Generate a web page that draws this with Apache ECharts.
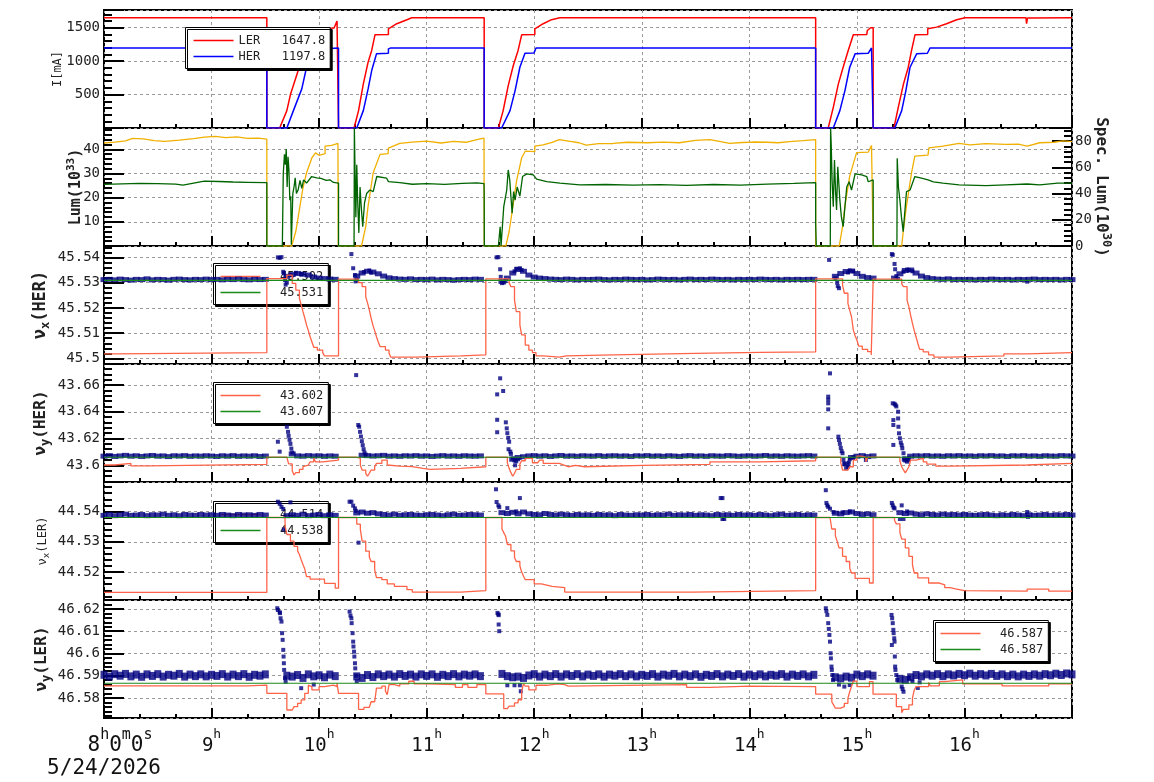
<!DOCTYPE html>
<html>
<head>
<meta charset="utf-8">
<script src="https://cdn.jsdelivr.net/npm/echarts@6/dist/echarts.min.js"></script>
<style>
html, body { margin: 0; padding: 0; background: #fff; }
#main { width: 1154px; height: 782px; }
</style>
</head>
<body>
<div id="main"></div>
<script>
// ---- data (times are local, 24 May 2026) ----
const BAND_STEP_MIN = 3; // tune monitor samples, one every 3 minutes from 8:00

// beam currents [mA]
const lerCurrent = [
  ['08:00',1648],['09:30:50',1648],['09:30:50',0],['09:38',0],['09:42',260],['09:44',500],['09:45:40',640],['09:48:20',860],
  ['09:50:20',960],['09:53',1390],['10:03:20',1395],['10:03:20',1490],['10:08:20',1495],['10:10',1600],['10:10:50',1600],['10:10:50',0],
  ['10:19:30',0],['10:22',260],['10:24:40',660],['10:27:20',985],['10:29:20',1160],['10:31:10',1394],['10:38:40',1398],['10:38:40',1484],
  ['10:43:20',1560],['10:49',1620],['10:51:40',1648],['11:32:05',1648],['11:32:05',0],['11:40',0],['11:42:40',260],['11:45:30',634],
  ['11:48:20',934],['11:51',1160],['11:53',1394],['12:00:20',1398],['12:00:20',1484],['12:05',1560],['12:09:40',1620],['12:14:20',1648],
  ['14:37',1648],['14:37',0],['14:44',0],['14:46:50',309],['14:49:40',660],['14:52:20',909],['14:55:10',1160],['14:58',1394],
  ['15:05:30',1398],['15:05:50',1459],['15:07:40',1500],['15:09:05',1500],['15:09:05',0],['15:20:40',0],['15:23:05',309],['15:26',660],
  ['15:28:40',909],['15:30:30',1160],['15:32:25',1394],['15:39:30',1398],['15:39:30',1484],['15:44:30',1509],['15:50',1560],['15:55:40',1619],
  ['16:00:20',1648],['16:34:20',1648],['16:34:40',1560],['16:35:10',1645],['17:00',1648]
];
const herCurrent = [
  ['08:00',1198],['09:30:50',1198],['09:30:50',0],['09:42',0],['09:45:40',260],['09:50:20',585],['09:53',909],['09:55:20',1118],
  ['10:01:20',1120],['10:03:20',1184],['10:04',1198],['10:10:50',1198],['10:10:50',0],['10:21',0],['10:24:40',260],['10:27:20',585],
  ['10:29:20',859],['10:32',1109],['10:38:40',1118],['10:38:40',1184],['10:40',1198],['11:32:05',1198],['11:32:05',0],['11:41:50',0],
  ['11:46:30',260],['11:49:20',560],['11:52',909],['11:54:50',1118],['11:59:50',1120],['12:01',1198],['14:37',1198],['14:37',0],
  ['14:46:50',0],['14:50:30',260],['14:53:20',560],['14:56',909],['14:59',1109],['15:06:20',1118],['15:08:10',1198],['15:09:05',1198],
  ['15:09:05',0],['15:21:10',0],['15:25',260],['15:27:20',560],['15:29:40',909],['15:33:20',1109],['15:39:20',1118],['15:40:50',1198],
  ['16:34:20',1198],['16:34:40',1186],['16:35:10',1197],['17:00',1198]
];

// luminosity [1e33] (left) and specific luminosity [1e30] (right)
const lumData = [
  ['08:00',42.6],['08:06',43.0],['08:12',43.5],['08:16',44.5],['08:22',44.3],['08:28',43.6],['08:34',43.3],['08:42',43.8],['08:50',44.4],
  ['08:56',45.0],['09:02',45.3],['09:08',44.8],['09:14',45.1],['09:20',44.5],['09:26',44.6],['09:30:50',44.2],['09:30:50',0],['09:44:40',0],
  ['09:47',6],['09:49:20',16.6],['09:51',24],['09:53',30.3],['09:56',36.5],['09:58',38.5],['10:00',37.5],['10:03:20',38.2],['10:03:20',41.3],
  ['10:07',41.6],['10:10:30',42.4],['10:10:40',0],['10:23:40',0],['10:26',8],['10:27:20',16.6],['10:30:10',30.3],['10:34',37.9],['10:38:30',38.2],
  ['10:38:40',40.5],['10:45',42.4],['10:52',43.0],['11:00',43.4],['11:08',42.6],['11:15',43.3],['11:22',42.9],['11:28',44.0],['11:32',44.6],
  ['11:32:05',0],['11:44:10',0],['11:46',6],['11:47:20',12.5],['11:50:10',26.9],['11:53',36.5],['11:55',39.2],['12:00:20',39.0],['12:00:20',41.3],
  ['12:05',41.8],['12:10',42.9],['12:14',44.0],['12:20',43.3],['12:25',42.7],['12:29',41.7],['12:36',42.3],['12:44',42.4],['12:52',42.9],
  ['13:03',42.7],['13:12',43.0],['13:21',42.7],['13:30',43.7],['13:38',44.0],['13:44',43.2],['13:49',42.4],['13:56',42.8],['14:02',43.0],
  ['14:10',42.9],['14:16',42.7],['14:24',43.3],['14:30',43.6],['14:37',44.0],['14:37',0],['14:50:10',0],['14:52',8],['14:53:20',16.6],
  ['14:56',28.9],['14:59:50',38.6],['15:06:20',38.8],['15:08:10',41.6],['15:09:05',41.6],['15:09:05',0],['15:25',0],['15:26',7],['15:27:40',16.6],
  ['15:30:30',30.3],['15:32:20',37.2],['15:39:40',37.6],['15:40:10',40.6],['15:48',41.3],['15:57',42.4],['16:03',41.8],['16:12',42.3],
  ['16:23',42.0],['16:30',42.1],['16:35',41.3],['16:42',42.7],['16:50',42.9],['16:55',43.5],['17:00',43.2]
];
const specLum = [
  ['08:00',47.0],['08:10',47.4],['08:20',47.8],['08:30',47.5],['08:40',47.2],['08:44',46.4],['08:50',48.0],['08:56',49.5],['09:04',49.2],
  ['09:12',48.8],['09:20',48.6],['09:30:50',48.3],['09:30:50',0],['09:39:30',0],['09:40',55],['09:40:40',70],['09:41:10',62],['09:41:40',74],
  ['09:42:10',45],['09:42:40',68],['09:43:10',58],['09:43:40',35],['09:44:10',38],['09:44:30',1],['09:45',1],['09:45:20',40],['09:46',45],
  ['09:46:40',52],['09:47:20',40],['09:48:20',43],['09:49:20',50],['09:50:20',44],['09:51:20',50.4],['09:53',48],['09:55:50',53],['09:58:40',52],
  ['10:01',51.5],['10:04',50],['10:06',50.5],['10:08',48.5],['10:10:50',48],['10:10:50',0],['10:19:30',0],['10:19:40',90],['10:20',60.5],
  ['10:20:30',22],['10:21',62],['10:21:30',35],['10:22:10',10],['10:22:50',45],['10:23:30',30],['10:24:20',14.7],['10:25:20',33],['10:26:30',40],
  ['10:28:20',42.7],['10:30:10',41.5],['10:32:10',53],['10:37:40',51.7],['10:38:40',49.1],['10:45',48.3],['10:52',47.1],['11:00',47.6],
  ['11:10',47.0],['11:20',47.8],['11:28',48.2],['11:32',47.5],['11:32:05',40],['11:32:10',0],['11:40',0],['11:41',14.7],['11:41:30',0],
  ['11:42:30',0],['11:43',30],['11:44:40',42.7],['11:45:30',58],['11:46:20',50.4],['11:47:40',25],['11:48:30',41.5],['11:49:20',35],
  ['11:50:30',45],['11:52',38],['11:53:30',53],['11:55:50',55],['11:59:30',54.2],['12:01:20',51],['12:07',49.1],['12:14:20',47.9],
  ['12:25:30',46.6],['12:40',46.9],['12:55',46.4],['13:10',46.8],['13:25',46.3],['13:40',46.9],['13:55',46.5],['14:10',47.2],['14:25',47.8],
  ['14:37',48.3],['14:37',17],['14:37:20',0],['14:45:10',0],['14:45:20',90],['14:45:40',78],['14:46:10',50],['14:46:50',30],['14:47:30',65.6],
  ['14:48:10',40],['14:48:40',27.5],['14:49:20',60.5],['14:50:30',35],['14:51:20',22.4],['14:52:20',14.7],['14:53:20',30],['14:54:20',45],
  ['14:55:40',49],['14:57',42.7],['14:59',55],['15:02:40',54.2],['15:05:30',53],['15:06:20',49],['15:09:05',50.4],['15:09:05',0],['15:22:20',0],
  ['15:22:30',67],['15:23:10',45],['15:24',35],['15:24:50',22.4],['15:25:50',11],['15:26:40',25],['15:27:40',41.5],['15:29:40',42.7],
  ['15:32:20',53],['15:36',51.7],['15:39:40',50.4],['15:42:40',48.9],['15:48',47.9],['15:57',46.6],['16:12',46.0],['16:23',46.6],['16:35',47.3],
  ['16:42',46.6],['16:52',47.9],['17:00',47.9]
];

// tune set values (stepped) and reference lines
const nxHerSet = [
  ['08:00',45.5018],['08:06',45.5023],['09:30:50',45.5316],['09:42',45.5330],['09:45',45.5297],['09:47',45.5270],['09:49',45.5238],['09:50',45.5212],
  ['09:51',45.5185],['09:52',45.5160],['09:53',45.5132],['09:54',45.5110],['09:55',45.5086],['09:56',45.5065],['09:57',45.5044],['09:59',45.5033],
  ['10:02',45.5023],['10:03',45.5010],['10:10:50',45.5314],['10:22',45.5300],['10:24',45.5284],['10:26',45.5244],['10:27',45.5220],['10:28',45.5192],
  ['10:29',45.5160],['10:30',45.5132],['10:31',45.5110],['10:32',45.5086],['10:33',45.5065],['10:34',45.5047],['10:37',45.5033],['10:39',45.5021],
  ['10:40',45.5005],['10:54',45.5010],['11:19',45.5014],['11:33',45.5315],['11:46',45.5300],['11:47',45.5284],['11:49',45.5231],['11:50',45.5185],
  ['11:52',45.5132],['11:53',45.5093],['11:55',45.5053],['11:57',45.5033],['11:59',45.5023],['12:01',45.5010],['12:05',45.5005],['12:14',45.5010],
  ['12:18',45.5014],['12:44',45.5020],['13:30',45.5024],['14:06',45.5026],['14:37',45.5315],['14:52',45.5290],['14:53',45.5258],['14:55',45.5218],
  ['14:56',45.5190],['14:57',45.5165],['14:58',45.5113],['14:59',45.5090],['15:00',45.5073],['15:01',45.5049],['15:03',45.5036],['15:06',45.5027],
  ['15:08',45.5014],['15:09:05',45.5314],['15:25',45.5295],['15:26',45.5284],['15:28',45.5230],['15:29',45.5205],['15:30',45.5170],['15:31',45.5139],
  ['15:32',45.5110],['15:33',45.5086],['15:34',45.5060],['15:35',45.5036],['15:37',45.5026],['15:40',45.5014],['15:43',45.5005],['15:52',45.5010],
  ['16:22',45.5018],['16:35',45.5023],['17:00',45.5022]
];
const nyHerSet = [
  ['08:00',43.6002],['08:06',43.6014],['08:15',43.5996],['08:25',43.6007],['09:30:50',43.6060],['09:42',43.6052],['09:43',43.6010],['09:45',43.5960],
  ['09:46',43.5928],['09:47',43.5945],['09:49',43.5969],['09:51',43.5990],['09:52',43.6002],['09:54',43.6015],['09:55',43.6026],['09:57',43.6052],
  ['09:58',43.6026],['10:02',43.6039],['10:10:50',43.6060],['10:21',43.6052],['10:23',43.6000],['10:24',43.5964],['10:26',43.5940],['10:27',43.5918],
  ['10:28',43.5940],['10:29',43.5964],['10:31',43.5990],['10:32',43.6014],['10:35',43.6039],['10:38',43.6002],['10:39',43.5994],['10:45',43.5990],
  ['10:52',43.5977],['10:58',43.5970],['11:02',43.5977],['11:19',43.5989],['11:33',43.6060],['11:45',43.6020],['11:46',43.5977],['11:47',43.5945],
  ['11:48',43.5918],['11:49',43.5940],['11:50',43.5969],['11:52',43.6010],['11:53',43.6034],['11:55',43.6052],['11:59',43.6019],['12:02',43.6026],
  ['12:03',43.6039],['12:05',43.6014],['12:14',43.6000],['12:17',43.5989],['12:19',43.6000],['12:23',43.5989],['12:28',43.6000],['13:01',43.6007],
  ['13:38',43.6026],['14:06',43.6034],['14:37',43.6060],['14:51',43.6020],['14:52',43.5964],['14:55',43.5956],['14:56',43.5989],['14:58',43.6039],
  ['15:00',43.6069],['15:02',43.6060],['15:05',43.6026],['15:06',43.6060],['15:24',43.6030],['15:25',43.5989],['15:26',43.5965],['15:27',43.5943],
  ['15:28',43.5965],['15:29',43.5989],['15:30',43.6039],['15:33',43.6052],['15:37',43.6026],['15:39',43.6009],['15:44',43.5994],['15:52',43.6002],
  ['16:35',43.6014],['17:00',43.6014]
];
const nxLerSet = [
  ['08:00',44.5133],['09:30:50',44.5380],['09:41',44.5352],['09:42',44.5324],['09:44',44.5302],['09:46',44.5285],['09:48',44.5270],['09:49',44.5258],
  ['09:50',44.5241],['09:51',44.5225],['09:52',44.5210],['09:53',44.5185],['09:55',44.5177],['10:03',44.5163],['10:09',44.5147],['10:10:50',44.5380],
  ['10:21',44.5358],['10:23',44.5341],['10:24',44.5302],['10:26',44.5269],['10:28',44.5250],['10:29',44.5235],['10:31',44.5208],['10:32',44.5182],
  ['10:35',44.5175],['10:38',44.5161],['10:42',44.5153],['10:49',44.5142],['10:52',44.5134],['11:19',44.5139],['11:33',44.5380],['11:42',44.5342],
  ['11:43',44.5330],['11:44',44.5319],['11:45',44.5291],['11:47',44.5270],['11:49',44.5248],['11:50',44.5235],['11:52',44.5220],['11:53',44.5200],
  ['11:54',44.5187],['11:55',44.5175],['12:00',44.5161],['12:04',44.5157],['12:07',44.5153],['12:10',44.5149],['12:17',44.5134],['13:28',44.5139],
  ['14:37',44.5380],['14:45',44.5375],['14:46',44.5342],['14:48',44.5319],['14:49',44.5302],['14:50',44.5280],['14:52',44.5252],['14:54',44.5235],
  ['14:56',44.5213],['14:57',44.5197],['14:59',44.5179],['15:07',44.5164],['15:09:05',44.5380],['15:21',44.5370],['15:22',44.5359],['15:24',44.5330],
  ['15:25',44.5309],['15:27',44.5280],['15:29',44.5252],['15:31',44.5224],['15:32',44.5197],['15:34',44.5181],['15:40',44.5164],['15:46',44.5158],
  ['15:49',44.5149],['15:52',44.5145],['15:55',44.5139],['16:00',44.5137],['16:35',44.5144],['16:47',44.5137],['17:00',44.5137]
];
const nyLerSet = [
  ['08:00',46.5854],['09:20',46.5858],['09:30:50',46.5821],['09:42',46.5746],['09:45',46.5750],['09:46',46.5761],['09:48',46.5776],['09:50',46.5791],
  ['09:52',46.5821],['09:54',46.5858],['09:55',46.5850],['09:56',46.5836],['10:00',46.5851],['10:03',46.5858],['10:08',46.5851],['10:10',46.5866],
  ['10:10:50',46.5821],['10:22',46.5749],['10:25',46.5758],['10:28',46.5764],['10:29',46.5783],['10:31',46.5791],['10:32',46.5844],['10:35',46.5853],
  ['10:37',46.5830],['10:38',46.5815],['10:39',46.5860],['10:42',46.5853],['10:45',46.5863],['10:50',46.5875],['10:53',46.5863],['11:00',46.5860],
  ['11:16',46.5848],['11:20',46.5860],['11:23',46.5848],['11:28',46.5860],['11:33',46.5818],['11:43',46.5752],['11:45',46.5747],['11:46',46.5763],
  ['11:49',46.5778],['11:51',46.5792],['11:53',46.5830],['11:54',46.5863],['11:55',46.5853],['11:57',46.5836],['12:01',46.5857],['12:07',46.5863],
  ['12:13',46.5860],['12:17',46.5867],['12:18',46.5853],['12:19',46.5860],['13:25',46.5848],['13:38',46.5853],['14:00',46.5851],['14:37',46.5817],
  ['14:46',46.5783],['14:47',46.5769],['14:48',46.5754],['14:51',46.5761],['14:53',46.5776],['14:55',46.5799],['14:56',46.5828],['14:57',46.5851],
  ['14:58',46.5876],['15:00',46.5851],['15:07',46.5873],['15:09',46.5817],['15:22',46.5761],['15:25',46.5734],['15:26',46.5749],['15:29',46.5769],
  ['15:31',46.5799],['15:32',46.5836],['15:33',46.5851],['15:40',46.5869],['15:41',46.5854],['15:46',46.5873],['15:49',46.5881],['15:59',46.5863],
  ['16:21',46.5854],['16:47',46.5863],['17:00',46.5863]
];
const nxHerRefValue = 45.5309;
const nyHerRefValue = 43.6060;
const nxLerRefValue = 44.5380;
const nyLerRefValue = 46.5866;

// measured tunes: steady band, one value per 3 minutes from 8:00 to 17:00 (null = no beam)
const nxHerBand = [
  45.5312,45.5313,45.5311,45.5314,45.5312,45.5310,45.5313,45.5312,45.5315,45.5311,45.5313,45.5312,45.5310,45.5313,45.5314,45.5312,45.5311,45.5313,45.5312,45.5314,
  45.5312,45.5313,45.5311,45.5313,45.5312,45.5314,45.5312,45.5311,45.5313,45.5312,45.5313,null,null,null,45.5325,45.5332,45.5336,45.5333,45.5330,45.5322,
  45.5318,45.5316,45.5314,45.5313,null,null,null,45.5326,45.5338,45.5345,45.5342,45.5335,45.5326,45.5319,45.5316,45.5314,45.5313,45.5315,45.5312,45.5313,
  45.5312,45.5314,45.5311,45.5313,45.5312,45.5310,45.5312,45.5313,45.5312,45.5314,45.5313,null,null,null,45.5305,45.5318,45.5338,45.5352,45.5345,45.5330,
  45.5322,45.5318,45.5316,45.5314,45.5313,45.5312,45.5314,45.5313,45.5311,45.5313,45.5312,45.5313,45.5314,45.5312,45.5311,45.5313,45.5312,45.5314,45.5313,45.5312,
  45.5313,45.5311,45.5312,45.5314,45.5313,45.5312,45.5313,45.5311,45.5313,45.5314,45.5312,45.5313,45.5312,45.5314,45.5313,45.5312,45.5313,45.5311,45.5313,45.5312,
  45.5313,45.5312,45.5314,45.5313,45.5312,45.5313,45.5311,45.5313,45.5312,45.5313,45.5312,45.5313,45.5313,null,null,null,45.5325,45.5336,45.5344,45.5346,
  45.5336,45.5325,45.5320,45.5318,null,null,null,45.5318,45.5335,45.5348,45.5350,45.5338,45.5326,45.5320,45.5316,45.5314,45.5313,45.5315,45.5312,45.5313,
  45.5312,45.5313,45.5311,45.5313,45.5312,45.5314,45.5313,45.5312,45.5313,45.5311,45.5313,45.5312,45.5313,45.5314,45.5312,45.5313,45.5312,45.5313,45.5311,45.5313,
  45.5312
];
const nyHerBand = [
  43.6068,43.6072,43.6066,43.6070,43.6074,43.6068,43.6071,43.6066,43.6070,43.6073,43.6068,43.6070,43.6065,43.6071,43.6069,43.6072,43.6067,43.6070,43.6068,43.6071,
  43.6069,43.6066,43.6071,43.6068,43.6072,43.6067,43.6070,43.6068,43.6071,43.6066,43.6069,null,null,null,null,43.6085,43.6070,43.6068,43.6072,43.6069,
  43.6071,43.6067,43.6070,43.6068,null,null,null,null,43.6075,43.6072,43.6069,43.6071,43.6074,43.6068,43.6070,43.6067,43.6071,43.6069,43.6072,43.6068,
  43.6070,43.6066,43.6069,43.6072,43.6068,43.6070,43.6067,43.6071,43.6069,43.6068,43.6070,null,null,null,null,null,43.6045,43.6058,43.6064,43.6070,
  43.6072,43.6068,43.6071,43.6066,43.6070,43.6073,43.6068,43.6070,43.6067,43.6071,43.6069,43.6068,43.6072,43.6067,43.6070,43.6071,43.6068,43.6070,43.6066,43.6071,
  43.6069,43.6072,43.6068,43.6070,43.6067,43.6071,43.6069,43.6066,43.6070,43.6072,43.6068,43.6070,43.6067,43.6071,43.6069,43.6068,43.6072,43.6070,43.6067,43.6069,
  43.6071,43.6068,43.6070,43.6073,43.6068,43.6070,43.6067,43.6071,43.6069,43.6068,43.6070,43.6072,43.6069,null,null,null,null,null,43.6010,43.6058,
  43.6068,43.6072,43.6065,43.6070,null,null,null,null,null,43.6045,43.6068,43.6071,43.6069,43.6072,43.6068,43.6070,43.6067,43.6071,43.6069,43.6072,
  43.6068,43.6070,43.6067,43.6071,43.6069,43.6072,43.6068,43.6070,43.6066,43.6071,43.6069,43.6072,43.6068,43.6070,43.6067,43.6071,43.6069,43.6068,43.6072,43.6070,
  43.6069
];
const nxLerBand = [
  44.5387,44.5390,44.5386,44.5389,44.5391,44.5387,44.5388,44.5390,44.5386,44.5389,44.5388,44.5391,44.5387,44.5389,44.5386,44.5390,44.5388,44.5387,44.5390,44.5388,
  44.5389,44.5387,44.5390,44.5388,44.5386,44.5390,44.5388,44.5389,44.5387,44.5390,44.5388,null,null,null,44.5386,44.5389,44.5387,44.5391,44.5386,44.5388,
  44.5390,44.5386,44.5389,44.5387,null,null,null,44.5395,44.5398,44.5394,44.5396,44.5392,44.5390,44.5388,44.5391,44.5387,44.5389,44.5390,44.5388,44.5387,
  44.5389,44.5390,44.5388,44.5386,44.5389,44.5391,44.5387,44.5388,44.5390,44.5389,44.5388,null,null,null,44.5396,44.5393,44.5397,44.5392,44.5398,44.5392,
  44.5390,44.5389,44.5393,44.5390,44.5388,44.5391,44.5389,44.5387,44.5390,44.5388,44.5389,44.5387,44.5390,44.5388,44.5389,44.5386,44.5390,44.5388,44.5387,44.5389,
  44.5388,44.5390,44.5387,44.5389,44.5388,44.5391,44.5387,44.5389,44.5388,44.5390,44.5387,44.5389,44.5388,44.5386,44.5390,44.5388,44.5389,44.5387,44.5390,44.5388,
  44.5389,44.5387,44.5390,44.5388,44.5386,44.5389,44.5391,44.5387,44.5388,44.5390,44.5387,44.5389,44.5388,null,null,null,44.5394,44.5392,44.5396,44.5398,
  44.5393,44.5390,44.5392,44.5389,null,null,null,null,44.5396,44.5393,44.5395,44.5391,44.5389,44.5392,44.5390,44.5388,44.5391,44.5389,44.5390,44.5388,
  44.5390,44.5388,44.5387,44.5389,44.5390,44.5388,44.5386,44.5389,44.5387,44.5390,44.5388,44.5386,44.5389,44.5387,44.5388,44.5390,44.5387,44.5389,44.5388,44.5390,
  44.5388
];
const nyLerBand = [
  46.5904,46.5896,46.5907,46.5900,46.5908,46.5897,46.5905,46.5895,46.5906,46.5899,46.5907,46.5896,46.5904,46.5900,46.5908,46.5896,46.5905,46.5898,46.5906,46.5897,
  46.5904,46.5899,46.5907,46.5896,46.5905,46.5898,46.5907,46.5895,46.5904,46.5900,46.5906,null,null,null,46.5900,46.5896,46.5903,46.5890,46.5906,46.5897,
  46.5902,46.5893,46.5905,46.5898,null,null,null,46.5897,46.5890,46.5903,46.5894,46.5906,46.5898,46.5905,46.5896,46.5907,46.5899,46.5905,46.5896,46.5906,
  46.5899,46.5906,46.5895,46.5904,46.5898,46.5907,46.5897,46.5905,46.5900,46.5906,46.5898,null,null,null,46.5908,46.5898,46.5893,46.5896,46.5890,46.5901,
  46.5907,46.5896,46.5905,46.5898,46.5907,46.5896,46.5906,46.5899,46.5907,46.5897,46.5905,46.5899,46.5906,46.5896,46.5905,46.5900,46.5907,46.5898,46.5906,46.5897,
  46.5904,46.5899,46.5907,46.5896,46.5905,46.5900,46.5908,46.5897,46.5905,46.5898,46.5906,46.5895,46.5904,46.5899,46.5907,46.5897,46.5905,46.5899,46.5907,46.5896,
  46.5905,46.5898,46.5906,46.5897,46.5904,46.5900,46.5907,46.5896,46.5905,46.5899,46.5906,46.5897,46.5904,null,null,null,46.5893,46.5888,46.5896,46.5891,
  46.5905,46.5898,46.5906,46.5900,null,null,null,null,46.5886,46.5881,46.5893,46.5903,46.5897,46.5906,46.5900,46.5907,46.5898,46.5906,46.5901,46.5908,
  46.5902,46.5909,46.5900,46.5907,46.5901,46.5908,46.5899,46.5906,46.5898,46.5905,46.5897,46.5905,46.5899,46.5906,46.5900,46.5907,46.5902,46.5909,46.5903,46.5910,
  46.5906
];

// measured tunes around refills (individual readings)
const nxHerTrans = [
  ['09:37',45.5400],['09:38',45.5398],['09:39',45.5401],['09:40',45.5343],['09:40:20',45.5338],['09:41',45.5310],['09:41:20',45.5292],['09:42',45.5300],
  ['09:44',45.5330],['09:47',45.5339],['09:50',45.5334],['10:18',45.5413],['10:19',45.5357],['10:20',45.5330],['10:20:20',45.5305],['10:21',45.5312],
  ['10:25',45.5342],['10:28',45.5348],['10:29',45.5340],['11:39',45.5400],['11:40',45.5401],['11:41',45.5353],['11:41:20',45.5323],['11:42',45.5298],
  ['11:43',45.5300],['11:44',45.5306],['11:49',45.5345],['11:50',45.5355],['11:52',45.5357],['11:53',45.5350],['14:44:30',45.5390],['14:48',45.5317],
  ['14:49',45.5300],['14:49:20',45.5286],['14:50',45.5278],['14:55',45.5340],['14:56',45.5348],['14:58',45.5345],['15:19:30',45.5413],['15:20',45.5410],
  ['15:21',45.5374],['15:21:20',45.5353],['15:22',45.5326],['15:23',45.5315],['15:26',45.5343],['15:28',45.5352],['15:29',45.5350],['15:31',45.5345],
  ['16:35',45.5304]
];
const nyHerTrans = [
  ['09:37',43.6176],['09:38',43.6102],['09:42',43.6288],['09:42:40',43.6250],['09:43',43.6220],['09:43:30',43.6190],['09:44',43.6160],['09:44:30',43.6125],
  ['09:45',43.6095],['10:20:40',43.6674],['10:21:50',43.6301],['10:22:20',43.6288],['10:22:50',43.6250],['10:23:20',43.6215],['10:23:50',43.6180],
  ['10:24:20',43.6150],['10:24:50',43.6120],['10:25:20',43.6095],['10:26',43.6080],['11:39:20',43.6530],['11:39:20',43.6340],['11:39:20',43.6247],
  ['11:41',43.6650],['11:42:40',43.6555],['11:44:10',43.6321],['11:44:40',43.6276],['11:45',43.6240],['11:45:30',43.6205],['11:46',43.6176],
  ['11:45:40',43.6120],['11:46:40',43.6102],['11:47',43.6085],['11:48',43.6052],['11:49',43.6035],['11:49:20',43.6000],['11:50',43.6030],['11:51',43.6045],
  ['14:44',43.6513],['14:44',43.6490],['14:44',43.6463],['14:44',43.6418],['14:44',43.6276],['14:45',43.6687],['14:49:40',43.6214],['14:50',43.6189],
  ['14:50:30',43.6160],['14:51',43.6130],['14:51:30',43.6105],['14:52',43.6090],['14:52:30',43.6040],['14:53',43.6010],['14:54',43.5978],['14:55',43.5990],
  ['14:55:30',43.6020],['14:56',43.6045],['14:58',43.6060],['15:05',43.6040],['15:20',43.6463],['15:20:20',43.6338],['15:20:20',43.6301],['15:20:20',43.6152],
  ['15:21',43.6460],['15:21:30',43.6450],['15:22',43.6440],['15:23',43.6400],['15:23',43.6350],['15:23:10',43.6288],['15:23:30',43.6239],['15:24',43.6202],
  ['15:24:30',43.6170],['15:25',43.6150],['15:25:20',43.6127],['15:26',43.6090],['15:26:30',43.6052],['15:27',43.6035],['15:28',43.6027],['15:28:30',43.6040],
  ['15:29',43.6055]
];
const nxLerTrans = [
  ['09:37',44.5432],['09:38',44.5425],['09:39',44.5415],['09:40',44.5408],['09:40:20',44.5341],['09:44',44.5430],['10:17',44.5432],['10:18',44.5432],
  ['10:19',44.5419],['10:20',44.5410],['10:20:30',44.5402],['10:22',44.5297],['11:38:40',44.5473],['11:39',44.5431],['11:40',44.5420],['11:40:30',44.5414],
  ['11:45',44.5411],['11:52',44.5444],['11:50',44.5400],['13:44',44.5444],['13:45',44.5444],['13:45',44.5375],['13:46',44.5375],['14:42:40',44.5470],
  ['14:43',44.5428],['14:43:30',44.5420],['14:44',44.5415],['14:45',44.5409],['14:56',44.5400],['14:47',44.5398],['14:52',44.5397],['15:19:30',44.5428],
  ['15:20',44.5420],['15:20:30',44.5413],['15:21',44.5410],['15:25',44.5420],['15:24',44.5375],['15:26',44.5375],['15:28',44.5400],['16:35',44.5398],
  ['16:35:30',44.5382]
];
const nyLerTrans = [
  ['09:36:40',46.6203],['09:37',46.6195],['09:38',46.6185],['09:38:10',46.6181],['09:38:30',46.6158],['09:39',46.6143],['09:39:20',46.6091],['09:39:40',46.6061],
  ['09:40',46.6016],['09:40:10',46.5986],['09:40:20',46.5956],['09:40:30',46.5926],['09:41',46.5889],['09:41:20',46.5873],['09:50',46.5844],['09:57',46.5860],
  ['10:17',46.6188],['10:17:30',46.6170],['10:18',46.6158],['10:18:10',46.6136],['10:18:40',46.6091],['10:19',46.6053],['10:19:10',46.6031],['10:19:30',46.6008],
  ['10:19:40',46.5986],['10:20',46.5956],['10:20:10',46.5933],['10:20:30',46.5900],['10:21',46.5875],['11:39:30',46.6182],['11:40',46.6176],['11:40:10',46.6172],
  ['11:40:10',46.6130],['11:40:30',46.6100],['11:45',46.5857],['11:49',46.5857],['11:52',46.5857],['11:52:30',46.5830],['14:42:40',46.6203],['14:43',46.6190],
  ['14:43:30',46.6173],['14:44',46.6136],['14:44:20',46.6110],['14:44:40',46.6083],['14:45',46.6053],['14:45:20',46.6001],['14:45:30',46.5978],['14:45:50',46.5941],
  ['14:46',46.5926],['14:46:20',46.5903],['14:46:40',46.5881],['14:50',46.5860],['14:53',46.5851],['14:56',46.5858],['15:19:20',46.6173],['15:19:40',46.6158],
  ['15:19:30',46.6038],['15:20',46.6136],['15:20:20',46.6106],['15:20:30',46.6091],['15:20:50',46.6068],['15:21',46.6053],['15:21:10',46.5986],['15:21:20',46.5941],
  ['15:21:30',46.5926],['15:22',46.5903],['15:22:30',46.5881],['15:25',46.5851],['15:26',46.5828],['15:25:30',46.5840],['15:29',46.5890],['15:31',46.5875],
  ['15:34',46.5845],['15:35',46.5870]
];

// legend texts (value shown next to each trace)
const legendText = {
  LER: 'LER   1647.8', HER: 'HER   1197.8',
  nxHerSet: '  45.502', nxHerRef: '  45.531',
  nyHerSet: '  43.602', nyHerRef: '  43.607',
  nxLerSet: '  44.514', nxLerRef: '  44.538',
  nyLerSet: '  46.587', nyLerRef: '  46.587'
};

// ---- helpers ----
const MONO = 'DejaVu Sans Mono';
const T_START = new Date(2026, 4, 24, 8, 0, 0).getTime();
const T_END = new Date(2026, 4, 24, 17, 0, 0).getTime();
function ts(s) {
  const p = s.split(':').map(Number);
  return new Date(2026, 4, 24, p[0], p[1], p[2] || 0).getTime();
}
function pairs(list) { return list.map(d => [ts(d[0]), d[1]]); }
function band(vals) {
  const out = [];
  vals.forEach((v, i) => { if (v != null) out.push([T_START + i * BAND_STEP_MIN * 60000, v]); });
  return out;
}
function flat(v) { return [[T_START, v], [T_END, v]]; }
function fmt(v) { return String(+v.toFixed(5)); }

const PANEL_TOPS = [10, 128, 246, 364, 482, 600];
const PANEL_H = 118;
const DASH = { color: '#9a9a9a', type: [3, 3], width: 1 };

const grids = PANEL_TOPS.map(t => ({
  left: 104, right: 82, top: t, height: PANEL_H,
  show: true, borderColor: '#000', borderWidth: 2, backgroundColor: 'transparent',
  containLabel: false, outerBoundsMode: 'none'
}));

const xAxes = PANEL_TOPS.map((t, i) => ({
  type: 'value', gridIndex: i, min: T_START, max: T_END, interval: 3600000,
  axisLine: { show: false },
  axisTick: { show: true, inside: true, length: 10, lineStyle: { color: '#000', width: 2 } },
  minorTick: { show: true, splitNumber: 3, length: 4, lineStyle: { color: '#000', width: 2 } },
  splitLine: { show: true, lineStyle: DASH },
  axisLabel: i < 5 ? { show: false } : {
    show: true, interval: 0, margin: 10, showMaxLabel: false, hideOverlap: false,
    color: '#111', fontFamily: MONO,
    formatter: function (v) {
      const d = new Date(v);
      if (v === T_START) {
        return '{sp| }{b|' + d.getHours() + '}{t|h}{b|' + d.getMinutes() + '}{t|m}{b|' + d.getSeconds() + '}{t|s}\n' +
          '{d|' + (d.getMonth() + 1) + '/' + d.getDate() + '/' + d.getFullYear() + '}';
      }
      return '{n|' + d.getHours() + '}{s|h}';
    },
    rich: {
      sp: { width: 32, fontSize: 10, lineHeight: 28 },
      b: { fontFamily: MONO, fontSize: 21, color: '#111', lineHeight: 28, verticalAlign: 'bottom' },
      t: { fontFamily: MONO, fontSize: 15, color: '#111', lineHeight: 18, verticalAlign: 'top' },
      n: { fontFamily: MONO, fontSize: 19, color: '#111', lineHeight: 28, verticalAlign: 'bottom' },
      s: { fontFamily: MONO, fontSize: 13, color: '#111', lineHeight: 16, verticalAlign: 'top' },
      d: { fontFamily: MONO, fontSize: 21, color: '#111', lineHeight: 26 }
    }
  }
}));

function yAxisFor(grid, min, max, split, name, nameStyle, nameGap, extra) {
  const base = {
    type: 'value', gridIndex: grid, min: min, max: max, splitNumber: split, position: 'left',
    name: name, nameLocation: 'middle', nameGap: nameGap, nameTextStyle: nameStyle, nameMoveOverlap: false,
    axisLine: { show: false },
    axisTick: { show: true, inside: true, length: 20, lineStyle: { color: '#000', width: 2 } },
    minorTick: { show: true, splitNumber: 5, length: 8, lineStyle: { color: '#000', width: 2 } },
    splitLine: { show: true, lineStyle: DASH },
    axisLabel: { margin: 4, fontFamily: MONO, fontSize: 14, color: '#222', showMinLabel: false, showMaxLabel: false, formatter: fmt }
  };
  return Object.assign(base, extra || {});
}

const nuRich = {
  sub: { fontFamily: MONO, fontSize: 12, fontWeight: 'bold', color: '#222', lineHeight: 12, verticalAlign: 'bottom' }
};
const nuRichThin = {
  sub: { fontFamily: MONO, fontSize: 9, color: '#222', lineHeight: 9, verticalAlign: 'bottom' }
};

const yAxes = [
  yAxisFor(0, 0, 1765, 4, 'I[mA]', { fontFamily: MONO, fontSize: 12, color: '#222', lineHeight: 14 }, 39),
  yAxisFor(1, 0, 48.8, 5, 'Lum(10{sup|33})', {
    fontFamily: MONO, fontSize: 15, fontWeight: 'bold', color: '#222', lineHeight: 20,
    rich: { sup: { fontFamily: MONO, fontSize: 11, fontWeight: 'bold', color: '#222', lineHeight: 10, verticalAlign: 'top' } }
  }, 18),
  yAxisFor(1, 0, 90, 4, 'Spec. Lum(10{sup|30})', {
    fontFamily: MONO, fontSize: 16, fontWeight: 'bold', color: '#222', lineHeight: 22,
    rich: { sup: { fontFamily: MONO, fontSize: 12, fontWeight: 'bold', color: '#222', lineHeight: 11, verticalAlign: 'top' } }
  }, 18, {
    position: 'right', nameRotate: -90, splitLine: { show: false },
    axisLabel: { margin: 3, fontFamily: MONO, fontSize: 14, color: '#222', showMinLabel: true, showMaxLabel: false, formatter: fmt }
  }),
  yAxisFor(2, 45.4978, 45.5445, 5, 'ν{sub|x}(HER)', { fontFamily: MONO, fontSize: 17, fontWeight: 'bold', color: '#222', lineHeight: 22, rich: nuRich }, 52),
  yAxisFor(3, 43.5875, 43.6757, 4, 'ν{sub|y}(HER)', { fontFamily: MONO, fontSize: 16, fontWeight: 'bold', color: '#222', lineHeight: 22, rich: nuRich }, 52),
  yAxisFor(4, 44.5108, 44.5497, 4, 'ν{sub|x}(LER)', { fontFamily: MONO, fontSize: 12, color: '#222', lineHeight: 16, rich: nuRichThin }, 53),
  yAxisFor(5, 46.571, 46.624, 5, 'ν{sub|y}(LER)', { fontFamily: MONO, fontSize: 16, fontWeight: 'bold', color: '#222', lineHeight: 22, rich: nuRich }, 51)
];

function line(name, grid, yIdx, data, color, width, extra) {
  return Object.assign({
    name: name, type: 'line', xAxisIndex: grid, yAxisIndex: yIdx, data: data,
    showSymbol: false, symbol: 'none', z: 4,
    itemStyle: { color: color }, lineStyle: { color: color, width: width }
  }, extra || {});
}
function dots(name, grid, yIdx, data, size) {
  return {
    name: name, type: 'scatter', xAxisIndex: grid, yAxisIndex: yIdx, data: data,
    symbol: 'rect', symbolSize: size, itemStyle: { color: '#000080' }, z: 3
  };
}

const CORAL = '#ff6347';
const REFGREEN = '#1a8a1a';
const series = [
  line('LER', 0, 0, pairs(lerCurrent), '#ff0000', 1.5),
  line('HER', 0, 0, pairs(herCurrent), '#0000ff', 1.5),
  line('Lum', 1, 1, pairs(lumData), '#f0b000', 1.3),
  line('SpecLum', 1, 2, pairs(specLum), '#006400', 1.3),

  dots('nxHerBand', 2, 3, band(nxHerBand), [7, 5]),
  dots('nxHerTrans', 2, 3, pairs(nxHerTrans), 4),
  line('nxHerSet', 2, 3, pairs(nxHerSet), CORAL, 1.3, { step: 'end' }),
  line('nxHerRef', 2, 3, flat(nxHerRefValue), REFGREEN, 1.2),

  dots('nyHerBand', 3, 4, band(nyHerBand), [7, 5]),
  dots('nyHerTrans', 3, 4, pairs(nyHerTrans), 4),
  line('nyHerSet', 3, 4, pairs(nyHerSet), CORAL, 1.3, { step: 'end' }),
  line('nyHerRef', 3, 4, flat(nyHerRefValue), REFGREEN, 1.2),

  dots('nxLerBand', 4, 5, band(nxLerBand), [7, 5]),
  dots('nxLerTrans', 4, 5, pairs(nxLerTrans), 4),
  line('nxLerSet', 4, 5, pairs(nxLerSet), CORAL, 1.3, { step: 'end' }),
  line('nxLerRef', 4, 5, flat(nxLerRefValue), REFGREEN, 1.2),

  dots('nyLerBand', 5, 6, band(nyLerBand), [7, 8]),
  dots('nyLerTrans', 5, 6, pairs(nyLerTrans), 4),
  line('nyLerSet', 5, 6, pairs(nyLerSet), CORAL, 1.3, { step: 'end' }),
  line('nyLerRef', 5, 6, flat(nyLerRefValue), REFGREEN, 1.2)
];

function legendBox(names, left, top, z) {
  return {
    data: names, left: left, top: top, orient: 'vertical', z: z,
    icon: 'rect', itemWidth: 40, itemHeight: 1.5, itemGap: 2,
    padding: [6, 5, 5, names[0] === 'LER' ? 8 : 7],
    backgroundColor: '#fff', borderColor: '#000', borderWidth: 1, borderRadius: 0,
    shadowColor: '#000', shadowBlur: 0, shadowOffsetX: 2, shadowOffsetY: 2,
    selectedMode: false, itemStyle: { borderWidth: 0 },
    textStyle: { fontFamily: MONO, fontSize: 12, color: '#222', lineHeight: 14 },
    formatter: function (n) { return legendText[n]; }
  };
}

const option = {
  animation: false,
  backgroundColor: '#fff',
  textStyle: { fontFamily: MONO },
  grid: grids,
  xAxis: xAxes,
  yAxis: yAxes,
  legend: [
    legendBox(['LER', 'HER'], 185.5, 27.5, 6),
    legendBox(['nxHerSet', 'nxHerRef'], 213.5, 263.5, 1),
    legendBox(['nyHerSet', 'nyHerRef'], 213.5, 382.5, 1),
    legendBox(['nxLerSet', 'nxLerRef'], 213.5, 501.5, 1),
    legendBox(['nyLerSet', 'nyLerRef'], 933.5, 620.5, 1)
  ],
  series: series
};

const chart = echarts.init(document.getElementById('main'));
chart.setOption(option);
</script>
</body>
</html>
